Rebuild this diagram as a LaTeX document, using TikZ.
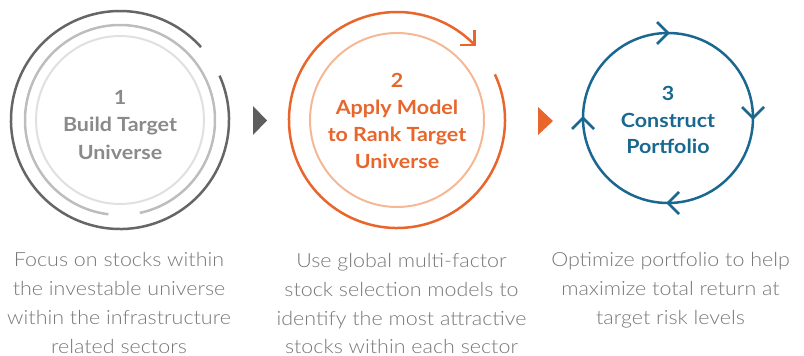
\documentclass[tikz,border=0pt]{standalone}
\usepackage{fontspec}
\setmainfont{Lato}[FakeStretch=1.1]
\newfontfamily\lightfont{Lato Light}[FakeStretch=1.1]
\definecolor{gdark}{HTML}{666666}
\definecolor{gtri}{HTML}{5E5E5E}
\definecolor{gmid}{HTML}{BDBDBD}
\definecolor{glight}{HTML}{E0E0E0}
\definecolor{gtext}{HTML}{8A8A8A}
\definecolor{orng}{HTML}{E8652B}
\definecolor{orngl}{HTML}{F5B896}
\definecolor{blu}{HTML}{1A6890}
\definecolor{btext}{HTML}{777777}
\tikzset{
  head/.style={anchor=base, inner sep=0pt, font=\fontsize{19.5}{23}\selectfont\bfseries},
  desc/.style={anchor=base, inner sep=0pt, text=btext, font=\lightfont\fontsize{19.5}{23}\selectfont},
  ringthick/.style={line width=2.5pt},
  ringthin/.style={line width=2pt},
  chev/.style={line width=2.5pt, line join=miter},
}
\begin{document}
\begin{tikzpicture}[x=1pt,y=-1pt]
\useasboundingbox (0,0) rectangle (804,356);
% ---------- circle 1
\coordinate (c1) at (120,120);
\draw[ringthick, gdark] ([shift={(-24:109)}]c1) arc[start angle=-24, end angle=318, radius=109];
\draw[ringthick, gmid] ([shift={(97:95)}]c1) arc[start angle=97, end angle=438, radius=95];
\draw[ringthin, glight] (c1) circle[radius=84];
\node[head, text=gtext] (t1a) at (120,104) {1};
\node[head, text=gtext] (t1b) at (120,131.5) {Build Target};
\node[head, text=gtext] (t1c) at (120,159) {Universe};
% ---------- arrow 1
\fill[gtri] (253,106) -- (267,120.5) -- (253,135) -- cycle;
% ---------- circle 2
\coordinate (c2) at (397,120);
\draw[ringthick, orng] ([shift={(-25:108)}]c2) arc[start angle=-25, end angle=316, radius=108] coordinate (a2end);
\draw[chev, orng] ([shift={(0,-15)}]a2end) -- (a2end) -- ([shift={(-15,0)}]a2end);
\draw[ringthin, orngl] (c2) circle[radius=87];
\node[head, text=orng] (t2a) at (397,87) {2};
\node[head, text=orng] (t2b) at (397,114.5) {Apply Model};
\node[head, text=orng] (t2c) at (397,141.5) {to Rank Target};
\node[head, text=orng] (t2d) at (397,168) {Universe};
% ---------- arrow 2
\fill[orng] (538,107) -- (553,121) -- (538,135) -- cycle;
% ---------- circle 3
\coordinate (c3) at (668,118);
\draw[ringthick, blu] (c3) circle[radius=85];
\draw[chev, blu] (657,22) -- (668,33) -- (657,44);
\draw[chev, blu] (742,107) -- (753,118) -- (764,107);
\draw[chev, blu] (679,192) -- (668,203) -- (679,214);
\draw[chev, blu] (572,129) -- (583,118) -- (594,129);
\node[head, text=blu] (t3a) at (668,100) {3};
\node[head, text=blu] (t3b) at (668,127) {Construct};
\node[head, text=blu] (t3c) at (668,153.5) {Portfolio};
% ---------- descriptions
\node[desc] (d1a) at (119,266) {Focus on stocks within};
\node[desc] (d1b) at (119,295) {the investable universe};
\node[desc] (d1c) at (119,324) {within the infrastructure};
\node[desc] (d1d) at (119,353) {related sectors};
\node[desc] (d2a) at (401.5,267) {Use global multi-factor};
\node[desc] (d2b) at (401.5,296) {stock selection models to};
\node[desc] (d2c) at (401.5,325) {identify the most attractive};
\node[desc] (d2d) at (401.5,353) {stocks within each sector};
\node[desc] (d3a) at (670.5,266) {Optimize portfolio to help};
\node[desc] (d3b) at (670.5,295) {maximize total return at};
\node[desc] (d3c) at (670.5,324) {target risk levels};
\end{tikzpicture}
\end{document}
